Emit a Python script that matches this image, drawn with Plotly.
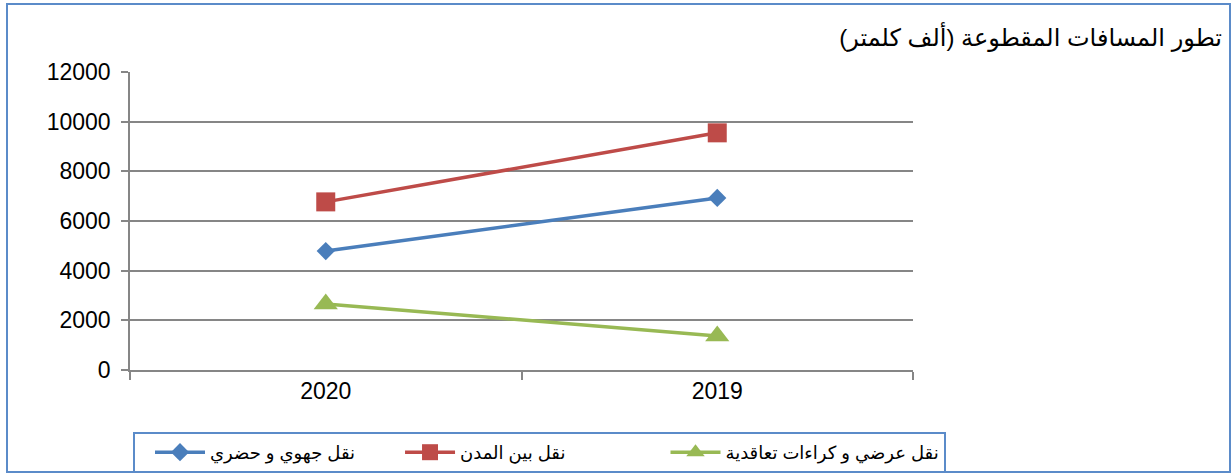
import plotly.graph_objects as go

years = ["2020", "2019"]
regional_urban = [4790, 6930]
intercity = [6770, 9550]
contract = [2660, 1370]

names = ["نقل جهوي و حضري", "نقل بين المدن", "نقل عرضي و كراءات تعاقدية"]
title_text = "تطور المسافات المقطوعة (ألف كلمتر)" + "\u200f"
y_ticks = [0, 2000, 4000, 6000, 8000, 10000, 12000]
y_labels = ["0", "2000", "4000", "6000", "8000", "10000", "12000"]

W, H = 1232, 473
L, R, T, B = 130, 913, 72, 370

fig = go.Figure()
series = [
    (regional_urban, names[0], "#4A7EBB", "diamond", 14, 5),
    (intercity, names[1], "#BE4B48", "square", 19, 16),
    (contract, names[2], "#98B954", "triangle-up", 21, 0),
]
for vals, nm, col, sym, sz, pad in series:
    fig.add_trace(go.Scatter(
        x=years, y=vals, name=nm + "\u200f" + "\u00a0" * pad,
        mode="lines+markers",
        line=dict(color=col, width=3.5),
        marker=dict(symbol=sym, size=sz, color=col),
    ))

def px_x(p):
    return (p - L) / (R - L)

def px_y(p):
    return (B - p) / (B - T)

fig.add_shape(type="rect", xref="paper", yref="paper",
              x0=px_x(7), x1=px_x(1230), y0=px_y(472), y1=px_y(4),
              line=dict(color="#5B8BC9", width=2), layer="below")

fig.update_layout(
    width=W, height=H,
    margin=dict(l=L, r=W - R, t=T, b=H - B, autoexpand=False),
    paper_bgcolor="white", plot_bgcolor="white",
    font=dict(family="Arial, Liberation Sans, DejaVu Sans", color="black"),
    title=dict(text=title_text, x=1222 / W, xanchor="right",
               y=1 - 38 / H, yanchor="middle",
               font=dict(size=24, color="black")),
    xaxis=dict(type="category", categoryorder="array", categoryarray=years,
               tickson="boundaries", ticks="outside", ticklen=8,
               tickcolor="#868686", tickwidth=1.5,
               showline=True, linecolor="#868686", linewidth=1.5,
               showgrid=False, tickfont=dict(size=23),
               range=[-0.5, 1.5]),
    yaxis=dict(range=[0, 12000], tickvals=y_ticks, ticktext=y_labels,
               ticks="outside", ticklen=7, tickcolor="#868686", tickwidth=1.5,
               showline=True, linecolor="#868686", linewidth=1.5,
               showgrid=True, gridcolor="#868686", gridwidth=1.5,
               zeroline=False, tickfont=dict(size=23), ticklabelstandoff=6),
    showlegend=True,
    legend=dict(orientation="h", xref="paper", yref="paper",
                x=px_x(946), xanchor="right",
                y=px_y(432), yanchor="top",
                bgcolor="white", bordercolor="#5B8BC9", borderwidth=2,
                font=dict(size=18, color="black"),
                itemwidth=50, indentation=15,
                traceorder="normal"),
)

fig.write_html(
    "out.html",
    config={"displayModeBar": False},
    post_script="document.body.style.margin='0';document.body.style.overflow='hidden';",
)
